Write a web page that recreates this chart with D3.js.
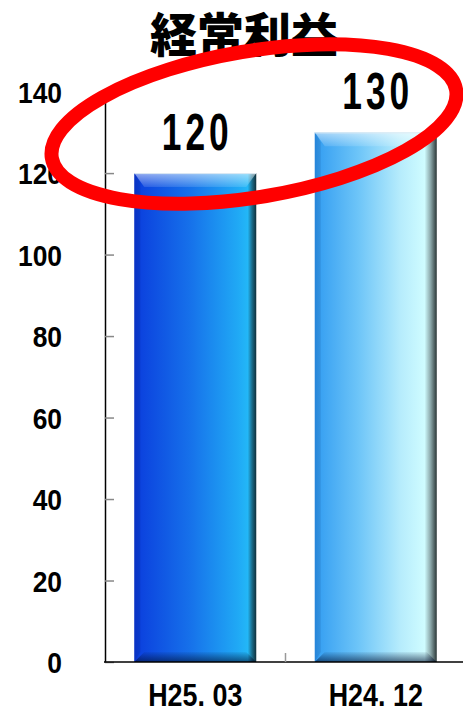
<!DOCTYPE html>
<html>
<head>
<meta charset="utf-8">
<script src="https://cdn.jsdelivr.net/npm/d3@7/dist/d3.min.js"></script>
<style>
  html, body { margin: 0; padding: 0; background: #fff; }
  svg { display: block; }
</style>
</head>
<body>
<div id="chart"></div>
<script>
// 経常利益 — two-period comparison
const title = "経常利益";
const categories = ["H25.03", "H24.12"];
const values = [120, 130];
const yTicks = [0, 20, 40, 60, 80, 100, 120, 140];

const W = 463, H = 712;
const svg = d3.select("#chart").append("svg")
  .attr("width", W).attr("height", H)
  .attr("viewBox", `0 0 ${W} ${H}`);

const defs = svg.append("defs");

const y = d3.scaleLinear().domain([0, 140]).range([662, 91.6]);
const x = d3.scaleBand().domain(categories).range([105, 466])
  .paddingInner(0.324).paddingOuter(0.162);

const numFont = "'Liberation Sans', Arial, sans-serif";

// bar face gradients (left → right, with a dark right-hand edge)
const barStops = [
  [[0, "#0b36d2"], [0.06, "#0c44df"], [0.45, "#1670ea"], [0.85, "#20a9f5"],
   [0.93, "#23b7f7"], [0.965, "#1a6c8a"], [1, "#0f2f3a"]],
  [[0, "#2a92ea"], [0.05, "#3aa2f2"], [0.35, "#6cc4f8"], [0.7, "#b6ecfc"],
   [0.9, "#cffcff"], [0.95, "#8aa6a8"], [1, "#2b3737"]]
];
barStops.forEach((stops, i) => {
  const g = defs.append("linearGradient").attr("id", "face" + i)
    .attr("x1", 0).attr("x2", 1).attr("y1", 0).attr("y2", 0);
  stops.forEach(s => g.append("stop").attr("offset", s[0]).attr("stop-color", s[1]));
});
const topG = defs.append("linearGradient").attr("id", "bevelTop")
  .attr("x1", 0).attr("x2", 0).attr("y1", 0).attr("y2", 1);
topG.append("stop").attr("offset", 0).attr("stop-color", "#ffffff").attr("stop-opacity", 0.55);
topG.append("stop").attr("offset", 1).attr("stop-color", "#ffffff").attr("stop-opacity", 0.12);
const botG = defs.append("linearGradient").attr("id", "bevelBot")
  .attr("x1", 0).attr("x2", 0).attr("y1", 0).attr("y2", 1);
botG.append("stop").attr("offset", 0).attr("stop-color", "#001030").attr("stop-opacity", 0.05);
botG.append("stop").attr("offset", 1).attr("stop-color", "#001030").attr("stop-opacity", 0.6);

// y axis (ticks point inward)
const yAxis = svg.append("g").attr("transform", `translate(${x.range()[0]},0)`)
  .call(d3.axisLeft(y).tickValues(yTicks).tickSize(-9).tickSizeOuter(0).tickFormat(d3.format("d")));
yAxis.select(".domain").attr("stroke", "#000").attr("stroke-width", 1.5);
yAxis.selectAll(".tick line").attr("stroke", "#888").attr("stroke-width", 1.5);
const ySx = 0.88;
yAxis.selectAll(".tick text")
  .attr("fill", "#000")
  .attr("font-family", numFont).attr("font-weight", "bold").attr("font-size", 30)
  .attr("text-anchor", "end")
  .attr("x", -43 / ySx).attr("dy", "0.36em")
  .attr("transform", `scale(${ySx},1)`);

// bars
const bev = 10;
const bars = svg.append("g").selectAll("g").data(categories).join("g");
bars.each(function (c, i) {
  const g = d3.select(this);
  const x0 = x(c), x1 = x(c) + x.bandwidth();
  const yt = y(values[i]), yb = y(0);
  g.append("rect").attr("x", x0).attr("y", yt)
    .attr("width", x.bandwidth()).attr("height", yb - yt)
    .attr("fill", `url(#face${i})`);
  // left face
  g.append("polygon")
    .attr("points", [[x0, yt], [x0 + bev * 0.6, yt + bev], [x0 + bev * 0.6, yb - bev], [x0, yb]].join(" "))
    .attr("fill", "#001040").attr("fill-opacity", 0.1);
  // top face
  g.append("polygon")
    .attr("points", [[x0, yt], [x1, yt], [x1 - bev, yt + bev * 1.4], [x0 + bev, yt + bev * 1.4]].join(" "))
    .attr("fill", "url(#bevelTop)");
  // bottom face
  g.append("polygon")
    .attr("points", [[x0, yb], [x1, yb], [x1 - bev, yb - bev], [x0 + bev, yb - bev]].join(" "))
    .attr("fill", "url(#bevelBot)");
  g.append("line").attr("x1", x0).attr("x2", x1).attr("y1", yt + 0.5).attr("y2", yt + 0.5)
    .attr("stroke", "#dfeaf2").attr("stroke-width", 1);
});

// value labels
const vSx = 0.68;
svg.append("g").selectAll("text").data(categories).join("text")
  .attr("transform", (c, i) => `translate(${x(c) + x.bandwidth() / 2 + 2},${y(values[i]) - 23}) scale(${vSx},1)`)
  .attr("text-anchor", "middle")
  .attr("font-family", numFont).attr("font-weight", "bold").attr("font-size", 52)
  .attr("letter-spacing", 6)
  .attr("fill", "#000")
  .text((c, i) => values[i]);

// x baseline, separators and category labels
svg.append("line")
  .attr("x1", x.range()[0] - 1).attr("x2", W)
  .attr("y1", y(0)).attr("y2", y(0))
  .attr("stroke", "#000").attr("stroke-width", 1.5);
svg.append("g").selectAll("line").data(categories.slice(1)).join("line")
  .attr("x1", c => x(c) - x.step() * x.paddingInner() / 2)
  .attr("x2", c => x(c) - x.step() * x.paddingInner() / 2)
  .attr("y1", y(0)).attr("y2", y(0) - 9)
  .attr("stroke", "#999").attr("stroke-width", 1.5);

const xSx = 0.84;
const xl = svg.append("g").selectAll("text").data(categories).join("text")
  .attr("transform", c => `translate(${x(c) + x.bandwidth() / 2},706) scale(${xSx},1)`)
  .attr("text-anchor", "middle")
  .attr("font-family", numFont).attr("font-weight", "bold").attr("font-size", 32)
  .attr("fill", "#000");
xl.each(function (c) {
  const k = c.indexOf(".") + 1;
  const t = d3.select(this);
  t.append("tspan").text(c.slice(0, k));
  t.append("tspan").attr("dx", 9).text(c.slice(k));
});

// title
svg.append("text")
  .attr("x", 244).attr("y", 52)
  .attr("text-anchor", "middle")
  .attr("font-family", "'Noto Sans CJK JP', sans-serif")
  .attr("font-weight", 900).attr("font-size", 47)
  .attr("fill", "#000")
  .text(title);

// red highlight ring around the value labels
svg.append("ellipse")
  .attr("cx", 0).attr("cy", 0).attr("rx", 205).attr("ry", 73)
  .attr("transform", "translate(254,124) rotate(-9.6)")
  .attr("fill", "none").attr("stroke", "#ff0000").attr("stroke-width", 14);
</script>
</body>
</html>
